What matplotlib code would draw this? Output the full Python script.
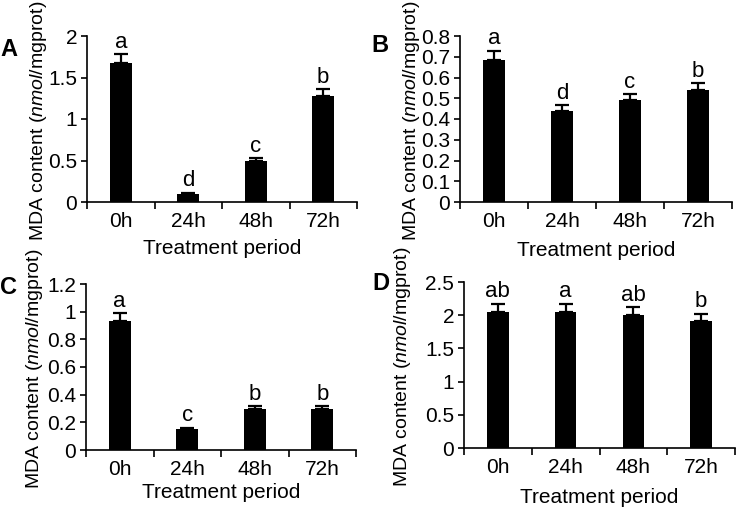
import matplotlib
matplotlib.use("Agg")
import matplotlib.pyplot as plt

plt.rcParams['font.family'] = ['Liberation Sans', 'DejaVu Sans']
plt.rcParams['mathtext.fontset'] = 'custom'
plt.rcParams['mathtext.rm'] = 'Liberation Sans'
plt.rcParams['mathtext.it'] = 'Liberation Sans:italic'

# Данные
periods = ["0h", "24h", "48h", "72h"]

mda_a = [1.67, 0.10, 0.49, 1.28]
err_a = [0.11, 0.01, 0.035, 0.08]
sig_a = ["a", "d", "c", "b"]

mda_b = [0.684, 0.44, 0.49, 0.538]
err_b = [0.045, 0.028, 0.03, 0.034]
sig_b = ["a", "d", "c", "b"]

mda_c = [0.93, 0.15, 0.295, 0.295]
err_c = [0.057, 0.012, 0.022, 0.022]
sig_c = ["a", "c", "b", "b"]

mda_d = [2.05, 2.05, 2.0, 1.91]
err_d = [0.125, 0.125, 0.125, 0.115]
sig_d = ["ab", "a", "ab", "b"]

W, H = 739, 515

# (left, right, top, bottom) в пикселях
panels = [
    ("A", mda_a, err_a, sig_a, (87, 357, 36, 202), 2, 0.5, (0, 50), -0.141, -0.225),
    ("B", mda_b, err_b, sig_b, (460, 732, 36, 202), 0.8, 0.1, (371, 45), -0.14, -0.235),
    ("C", mda_c, err_c, sig_c, (86, 356, 284, 450), 1.2, 0.2, (0, 288), -0.152, -0.2),
    ("D", mda_d, err_d, sig_d, (464, 735, 282, 448), 2.5, 0.5, (372, 283), -0.19, -0.24),
]

fig = plt.figure(figsize=(W / 100, H / 100), dpi=100)

for letter, vals, errs, sigs, (l, r, t, b), ymax, step, (lx, ly), ylx, xly in panels:
    ax = fig.add_axes([l / W, 1 - b / H, (r - l) / W, (b - t) / H])
    x = range(len(periods))
    ax.bar(x, vals, width=0.32, color="black", zorder=2)
    ax.errorbar(x, vals, yerr=[[0] * len(errs), errs], fmt="none", ecolor="black",
                elinewidth=1.6, capsize=5, capthick=1.6, zorder=3)
    for xi, v, e, s in zip(x, vals, errs, sigs):
        ax.annotate(s, (xi, v + e), xytext=(0, 1), textcoords="offset points",
                    ha="center", va="bottom", fontsize=16)

    ax.set_xlim(-0.5, 3.5)
    ax.set_ylim(0, ymax)
    nticks = int(round(ymax / step))
    ax.set_yticks([i * step for i in range(nticks + 1)])
    ax.set_yticklabels(["%g" % round(i * step, 2) for i in range(nticks + 1)])

    # деления между категориями, подписи по центру
    ax.set_xticks([-0.5, 0.5, 1.5, 2.5, 3.5])
    ax.set_xticklabels([])
    ax.set_xticks(list(x), minor=True)
    ax.set_xticklabels(periods, minor=True)
    ax.tick_params(axis="x", which="major", direction="out", length=5, width=1.2)
    ax.tick_params(axis="x", which="minor", length=0, pad=7, labelsize=15)
    ax.tick_params(axis="y", direction="out", length=4, width=1.2, labelsize=15, pad=3)

    for side in ["top", "right"]:
        ax.spines[side].set_visible(False)
    for side in ["left", "bottom"]:
        ax.spines[side].set_linewidth(1.2)

    ax.set_ylabel(r"MDA content ($\it{nmol}$/mgprot)", fontsize=14)
    ax.yaxis.set_label_coords(ylx, 0.49)
    ax.set_xlabel("Treatment period", fontsize=15)
    ax.xaxis.set_label_coords(0.5, xly)

    fig.text(lx / W, 1 - ly / H, letter, fontsize=17, fontweight="bold",
             ha="left", va="center")

fig.savefig("out.png", dpi=100)
